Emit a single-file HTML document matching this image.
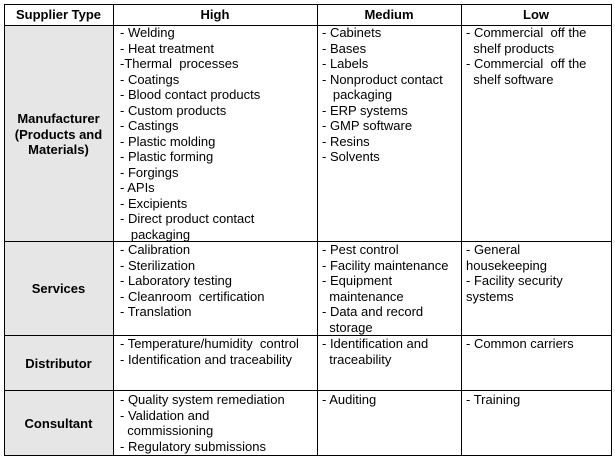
<!DOCTYPE html>
<html><head><style>
body{margin:0;width:615px;height:458px;background:#fff;position:relative;font-family:"Liberation Sans",Arial,sans-serif;font-size:13px;color:#000;overflow:hidden}
.h{position:absolute;background:#000;height:1px}
.v{position:absolute;background:#000;width:1px}
.t{position:absolute;line-height:15.5px;white-space:pre}
.b{font-weight:bold;text-align:center;white-space:normal}
.g{position:absolute;background:#e6e6e6}
</style></head><body>
<div class="g" style="left:4px;top:25px;width:109px;height:430px"></div>
<div class="h" style="left:4px;top:4px;width:608px"></div>
<div class="h" style="left:4px;top:25px;width:608px"></div>
<div class="h" style="left:4px;top:241px;width:608px"></div>
<div class="h" style="left:4px;top:335px;width:608px"></div>
<div class="h" style="left:4px;top:390px;width:608px"></div>
<div class="h" style="left:4px;top:455px;width:608px"></div>
<div class="v" style="left:4px;top:4px;height:452px"></div>
<div class="v" style="left:113px;top:4px;height:452px"></div>
<div class="v" style="left:317px;top:4px;height:452px"></div>
<div class="v" style="left:461px;top:4px;height:452px"></div>
<div class="v" style="left:611px;top:4px;height:452px"></div>

<div class="t b" style="left:4px;top:7px;width:109px">Supplier Type</div>
<div class="t b" style="left:113px;top:7px;width:204px">High</div>
<div class="t b" style="left:317px;top:7px;width:144px">Medium</div>
<div class="t b" style="left:461px;top:7px;width:150px">Low</div>

<div class="t b" style="left:6px;top:111px;width:105px">Manufacturer (Products and Materials)</div>
<div class="t b" style="left:4px;top:281px;width:109px">Services</div>
<div class="t b" style="left:4px;top:356px;width:109px">Distributor</div>
<div class="t b" style="left:4px;top:416px;width:109px">Consultant</div>

<div class="t" style="left:120px;top:25px">- Welding
- Heat treatment
-Thermal  processes
- Coatings
- Blood contact products
- Custom products
- Castings
- Plastic molding
- Plastic forming
- Forgings
- APIs
- Excipients
- Direct product contact
   packaging</div>
<div class="t" style="left:322px;top:25px">- Cabinets
- Bases
- Labels
- Nonproduct contact
   packaging
- ERP systems
- GMP software
- Resins
- Solvents</div>
<div class="t" style="left:466px;top:25px">- Commercial  off the
  shelf products
- Commercial  off the
  shelf software</div>

<div class="t" style="left:120px;top:242px">- Calibration
- Sterilization
- Laboratory testing
- Cleanroom  certification
- Translation</div>
<div class="t" style="left:322px;top:242px">- Pest control
- Facility maintenance
- Equipment
  maintenance
- Data and record
  storage</div>
<div class="t" style="left:466px;top:242px">- General
housekeeping
- Facility security
systems</div>

<div class="t" style="left:120px;top:336px">- Temperature/humidity  control
- Identification and traceability</div>
<div class="t" style="left:322px;top:336px">- Identification and
  traceability</div>
<div class="t" style="left:466px;top:336px">- Common carriers</div>

<div class="t" style="left:120px;top:392px">- Quality system remediation
- Validation and
  commissioning
- Regulatory submissions</div>
<div class="t" style="left:322px;top:392px">- Auditing</div>
<div class="t" style="left:466px;top:392px">- Training</div>
</body></html>
